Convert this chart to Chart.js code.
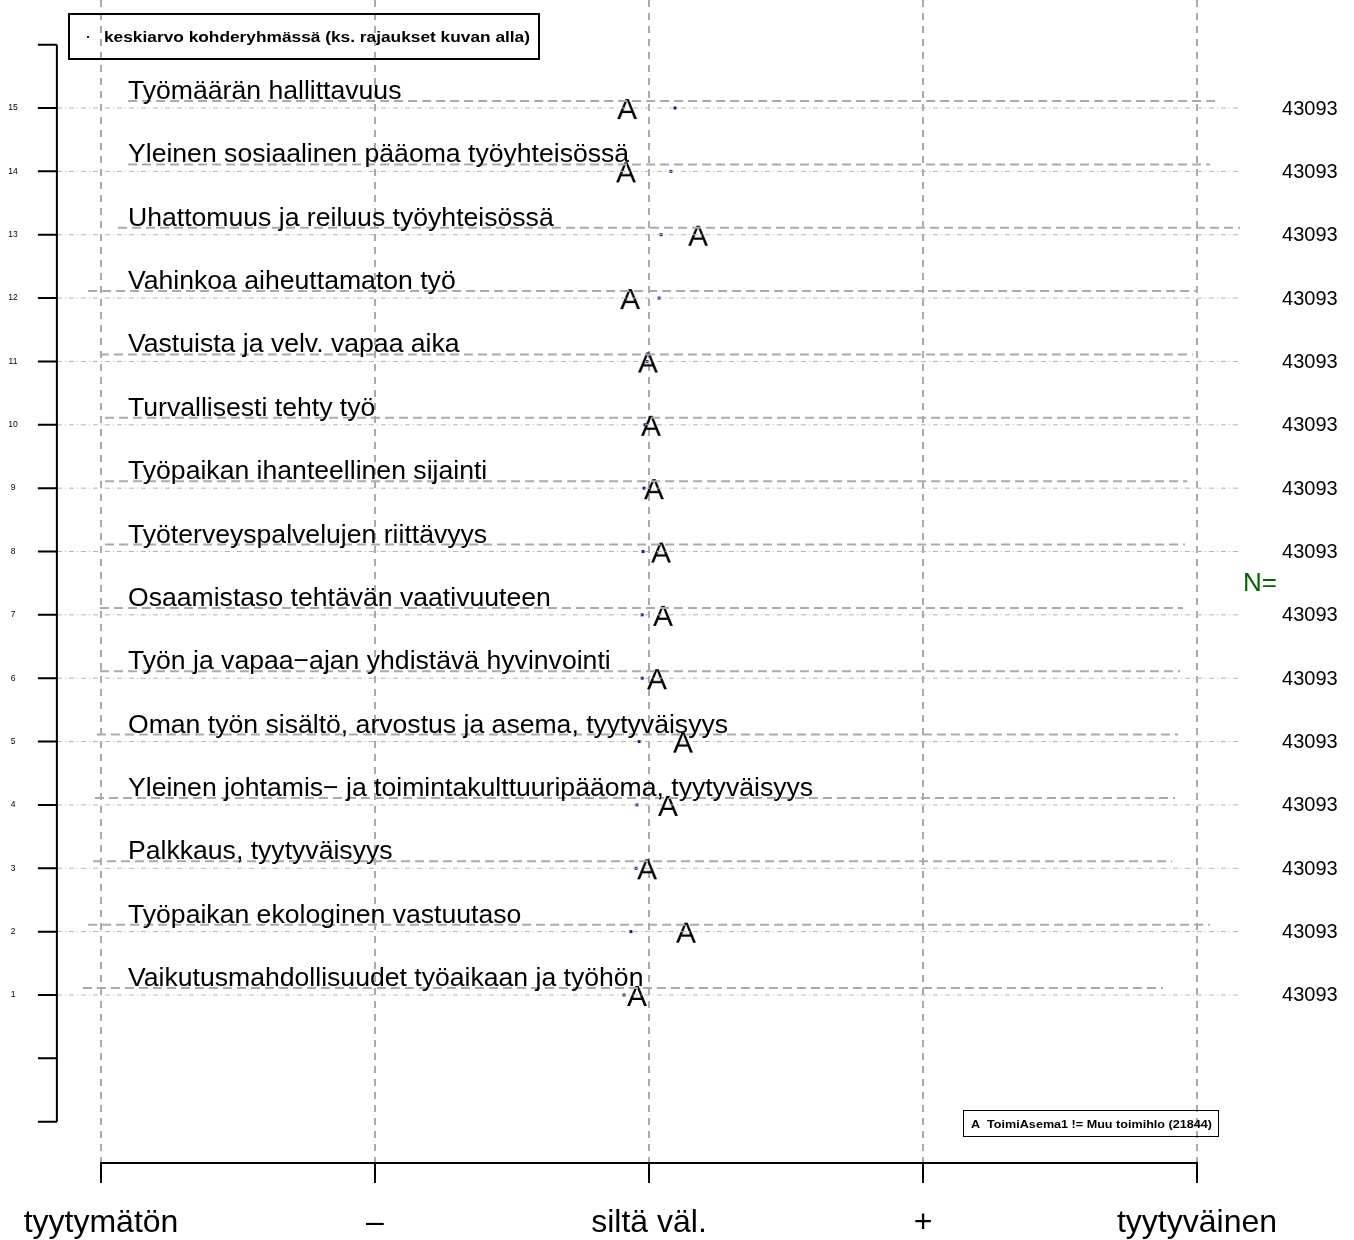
<!DOCTYPE html>
<html>
<head>
<meta charset="utf-8">
<script src="https://cdn.jsdelivr.net/npm/chart.js@4/dist/chart.umd.min.js"></script>
<style>
  html, body { margin: 0; padding: 0; background: #fff; }
  canvas { display: block; }
</style>
</head>
<body>
<canvas id="chart" width="1354" height="1240"></canvas>
<script>
// rivit ylhäältä alas (rivinumero 15 ... 1)
const rowNumbers = [15, 14, 13, 12, 11, 10, 9, 8, 7, 6, 5, 4, 3, 2, 1];
const categories = [
  'Työmäärän hallittavuus',
  'Yleinen sosiaalinen pääoma työyhteisössä',
  'Uhattomuus ja reiluus työyhteisössä',
  'Vahinkoa aiheuttamaton työ',
  'Vastuista ja velv. vapaa aika',
  'Turvallisesti tehty työ',
  'Työpaikan ihanteellinen sijainti',
  'Työterveyspalvelujen riittävyys',
  'Osaamistaso tehtävän vaativuuteen',
  'Työn ja vapaa\u2212ajan yhdistävä hyvinvointi',
  'Oman työn sisältö, arvostus ja asema, tyytyväisyys',
  'Yleinen johtamis\u2212 ja toimintakulttuuripääoma, tyytyväisyys',
  'Palkkaus, tyytyväisyys',
  'Työpaikan ekologinen vastuutaso',
  'Vaikutusmahdollisuudet työaikaan ja työhön'
];
// ryhmä A: ToimiAsema1 != Muu toimihlo
const groupA = [2.920, 2.916, 3.179, 2.931, 2.996, 3.007, 3.018, 3.044, 3.051, 3.029, 3.124, 3.069, 2.993, 3.135, 2.956];
// keskiarvo kohderyhmässä (siniset pisteet)
const targetMeans = [3.095, 3.080, 3.044, 3.037, 2.993, 2.985, 2.982, 2.978, 2.975, 2.975, 2.964, 2.956, 2.953, 2.934, 2.909];
// katkoviivan alku ja loppu
const rangeStart = [1.099, 1.099, 1.062, 0.953, 0.996, 1.015, 1.015, 1.015, 0.996, 0.996, 0.985, 0.978, 0.971, 0.953, 0.934];
const rangeEnd = [5.066, 5.047, 5.157, 5.000, 4.985, 4.974, 4.964, 4.956, 4.949, 4.938, 4.931, 4.920, 4.909, 5.047, 4.876];
const nValues = [43093, 43093, 43093, 43093, 43093, 43093, 43093, 43093, 43093, 43093, 43093, 43093, 43093, 43093, 43093];

const xTickValues = [1, 2, 3, 4, 5];
const xTickLabels = ['tyytymätön', '\u2013', 'siltä väl.', '+', 'tyytyväinen'];
const yTickValues = [-1, 0, 1, 2, 3, 4, 5, 6, 7, 8, 9, 10, 11, 12, 13, 14, 15, 16];
const yTickLabels = ['', '', '1', '2', '3', '4', '5', '6', '7', '8', '9', '10', '11', '12', '13', '14', '15', ''];

const legendText = 'keskiarvo kohderyhmässä (ks. rajaukset kuvan alla)';
const groupLegendText = 'A  ToimiAsema1 != Muu toimihlo (21844)';

// asettelu
const FONT = '"Liberation Sans", Arial, Helvetica, sans-serif';
const ROW_LIFT = 0.11;       // katkoviiva hieman rivin yläpuolella
const ROW_LINE_FROM = 0.839;
const ROW_LINE_TO = 5.157;
const LABEL_X = 1.0985;
const N_X = 5.412;
const N_LABEL = { x: 5.23, y: 7.5 };
const AXIS_X = 0.839;

// "A" merkki pisteeksi
function letterPoint(ch) {
  const c = document.createElement('canvas');
  c.width = 30; c.height = 36;
  const g = c.getContext('2d');
  g.font = '30px ' + FONT;
  g.fillStyle = '#000';
  g.textAlign = 'center';
  g.textBaseline = 'alphabetic';
  g.fillText(ch, 15, 29);
  return c;
}

function buildSegments(from, to, lift) {
  const pts = [];
  rowNumbers.forEach((r, i) => {
    const a = Array.isArray(from) ? from[i] : from;
    const b = Array.isArray(to) ? to[i] : to;
    pts.push({ x: a, y: r + lift }, { x: b, y: r + lift }, { x: null, y: null });
  });
  return pts;
}

function fitText(ctx, text, x, y, width) {
  const w = ctx.measureText(text).width;
  ctx.save();
  ctx.translate(x, y);
  ctx.scale(width / w, 1);
  ctx.fillText(text, 0, 0);
  ctx.restore();
}

const textPlugin = {
  id: 'rTexts',
  afterDatasetsDraw(chart) {
    const { ctx, scales: { x, y } } = chart;
    ctx.save();

    // y-akseli
    const ax = x.getPixelForValue(AXIS_X);
    ctx.strokeStyle = '#000';
    ctx.lineWidth = 2;
    ctx.beginPath();
    ctx.moveTo(ax, y.getPixelForValue(yTickValues[yTickValues.length - 1]));
    ctx.lineTo(ax, y.getPixelForValue(yTickValues[0]));
    yTickValues.forEach(v => {
      const py = y.getPixelForValue(v);
      ctx.moveTo(ax, py);
      ctx.lineTo(ax - 19, py);
    });
    ctx.stroke();
    ctx.fillStyle = '#000';
    ctx.font = '8.5px ' + FONT;
    ctx.textAlign = 'center';
    ctx.textBaseline = 'middle';
    yTickValues.forEach((v, i) => {
      if (yTickLabels[i]) ctx.fillText(yTickLabels[i], 13, y.getPixelForValue(v));
    });

    // rivien nimet
    ctx.font = '26.6px ' + FONT;
    ctx.textAlign = 'left';
    ctx.textBaseline = 'alphabetic';
    categories.forEach((c, i) => {
      ctx.fillText(c, x.getPixelForValue(LABEL_X), y.getPixelForValue(rowNumbers[i]) - 9);
    });

    // N-arvot
    ctx.font = '20px ' + FONT;
    ctx.textAlign = 'center';
    ctx.textBaseline = 'middle';
    nValues.forEach((n, i) => {
      ctx.fillText(String(n), x.getPixelForValue(N_X), y.getPixelForValue(rowNumbers[i]) + 1);
    });
    ctx.fillStyle = '#006400';
    ctx.font = '26px ' + FONT;
    ctx.fillText('N=', x.getPixelForValue(N_LABEL.x), y.getPixelForValue(N_LABEL.y) + 1);

    // selite ylhäällä
    ctx.strokeStyle = '#000';
    ctx.lineWidth = 2;
    ctx.strokeRect(69, 14, 470, 45);
    ctx.fillStyle = '#2a0d8c';
    ctx.fillRect(87, 36, 2, 2);
    ctx.fillStyle = '#000';
    ctx.font = 'bold 15px ' + FONT;
    ctx.textAlign = 'left';
    ctx.textBaseline = 'alphabetic';
    fitText(ctx, legendText, 104, 42, 426);

    // ryhmän selite alhaalla
    ctx.lineWidth = 1;
    ctx.strokeRect(963.5, 1110.5, 255, 26);
    ctx.font = 'bold 11px ' + FONT;
    fitText(ctx, groupLegendText, 971, 1128, 241);

    ctx.restore();
  }
};

const ctx = document.getElementById('chart').getContext('2d');
const chart = new Chart(ctx, {
  type: 'scatter',
  data: {
    datasets: [
      {
        label: 'rivi',
        data: buildSegments(ROW_LINE_FROM, ROW_LINE_TO, 0),
        showLine: true,
        spanGaps: false,
        borderColor: '#b4b4b4',
        borderWidth: 1,
        borderDash: [5, 3, 1, 3],
        pointRadius: 0,
        clip: false
      },
      {
        label: 'vaihteluväli',
        data: buildSegments(rangeStart, rangeEnd, ROW_LIFT),
        showLine: true,
        spanGaps: false,
        borderColor: '#aaaaaa',
        borderWidth: 2,
        borderDash: [9, 5],
        pointRadius: 0,
        clip: false
      },
      {
        label: 'keskiarvo kohderyhmässä',
        data: targetMeans.map((v, i) => ({ x: v, y: rowNumbers[i] })),
        pointStyle: 'rect',
        pointRadius: 2.1,
        pointBorderWidth: 0,
        backgroundColor: '#2a0d8c',
        clip: false
      },
      {
        label: 'A',
        data: groupA.map((v, i) => ({ x: v, y: rowNumbers[i] })),
        pointStyle: letterPoint('A'),
        pointRadius: 10,
        clip: false
      }
    ]
  },
  options: {
    responsive: false,
    animation: false,
    events: [],
    layout: { autoPadding: false, padding: { left: 101, right: 157, top: 0, bottom: 0 } },
    plugins: {
      legend: { display: false },
      tooltip: { enabled: false }
    },
    scales: {
      x: {
        type: 'linear',
        min: 1,
        max: 5,
        position: 'bottom',
        afterBuildTicks: (scale) => { scale.ticks = xTickValues.map(v => ({ value: v })); },
        afterFit: (scale) => { scale.height = 77; },
        ticks: {
          autoSkip: false,
          maxRotation: 0,
          padding: 21,
          color: '#000',
          font: { family: FONT, size: 32 },
          callback: (v) => xTickLabels[xTickValues.indexOf(v)]
        },
        grid: {
          color: '#aaaaaa',
          lineWidth: 2,
          drawTicks: true,
          tickLength: 20,
          tickColor: '#000',
          tickWidth: 2
        },
        border: { display: true, color: '#000', width: 2, dash: [7, 6] }
      },
      y: {
        type: 'linear',
        min: -1.652,
        max: 16.705,
        display: false
      }
    }
  },
  plugins: [textPlugin]
});
</script>
</body>
</html>
